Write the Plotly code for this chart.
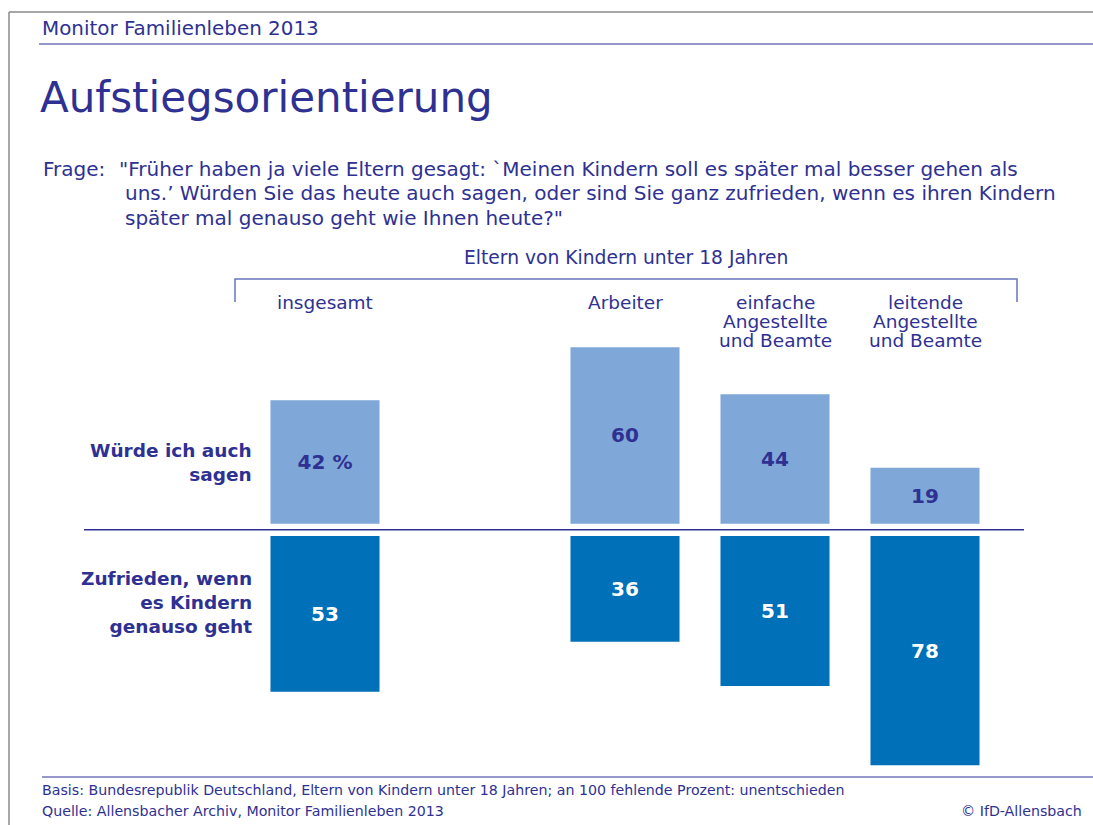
import plotly.graph_objects as go

# --- data -------------------------------------------------------------
categories = ["insgesamt", "Arbeiter", "einfache Angestellte und Beamte",
              "leitende Angestellte und Beamte"]
header_lines = [["insgesamt"], ["Arbeiter"],
                ["einfache", "Angestellte", "und Beamte"],
                ["leitende", "Angestellte", "und Beamte"]]
# blank slot keeps "insgesamt" apart from the occupational groups
slot_order = ["insgesamt", " ", "Arbeiter", "einfache Angestellte und Beamte",
              "leitende Angestellte und Beamte"]
wuerde_sagen = [42, 60, 44, 19]
zufrieden = [53, 36, 51, 78]
row_labels = ["Würde ich auch<br>sagen", "Zufrieden, wenn<br>es Kindern<br>genauso geht"]

kicker = "Monitor Familienleben 2013"
title = "Aufstiegsorientierung"
question = ['"Früher haben ja viele Eltern gesagt: `Meinen Kindern soll es später mal besser gehen als',
            "uns.’ Würden Sie das heute auch sagen, oder sind Sie ganz zufrieden, wenn es ihren Kindern",
            'später mal genauso geht wie Ihnen heute?"']
group_label = "Eltern von Kindern unter 18 Jahren"
basis = "Basis: Bundesrepublik Deutschland, Eltern von Kindern unter 18 Jahren; an 100 fehlende Prozent: unentschieden"
source = "Quelle: Allensbacher Archiv, Monitor Familienleben 2013"
credit = "© IfD-Allensbach"

# --- look -------------------------------------------------------------
W, H = 1093, 825
L, R, T, B = 250, 93, 310, 31
ZERO_PX = 529.85
PX_PER_UNIT = 2.94
GAP = 2.1
FONT = "DejaVu Sans"
NAVY = "#2e3192"
LIGHT = "#7fa7d8"
DARK = "#0070b9"

plot_w = W - L - R
plot_h = H - T - B


def px(x):
    return (x - L) / plot_w


def py(y):
    return (H - B - y) / plot_h


y_top = (ZERO_PX - T) / PX_PER_UNIT
y_bot = -(H - B - ZERO_PX) / PX_PER_UNIT

top_text = [f"{v} %" if i == 0 else str(v) for i, v in enumerate(wuerde_sagen)]
bottom_text = [str(v) for v in zufrieden]

fig = go.Figure()
fig.add_trace(go.Bar(
    x=categories, y=wuerde_sagen, base=GAP, width=0.727,
    marker=dict(color=LIGHT, line=dict(width=0)),
    text=top_text, textposition="inside", insidetextanchor="middle", textangle=0,
    textfont=dict(family=FONT, size=20, color=NAVY, weight="bold"),
    hoverinfo="skip",
))
fig.add_trace(go.Bar(
    x=categories, y=[-v for v in zufrieden], base=-GAP, width=0.727,
    marker=dict(color=DARK, line=dict(width=0)),
    text=bottom_text, textposition="inside", insidetextanchor="middle", textangle=0,
    textfont=dict(family=FONT, size=20, color="white", weight="bold"),
    hoverinfo="skip",
))

ann = []


def note(text, x, y, size, xanchor="left", bold=False, color=NAVY, xref="paper"):
    ann.append(dict(text=text, x=x if xref != "paper" else px(x), y=py(y),
                    xref=xref, yref="paper", showarrow=False,
                    xanchor=xanchor, yanchor="middle", align=xanchor,
                    font=dict(family=FONT, size=size, color=color,
                              weight="bold" if bold else "normal")))


note(kicker, 40, 28, 19.9)
note(title, 38, 98, 42)
note("Frage:", 41, 169, 20)
note(question[0], 117, 169, 20)
note(question[1], 123, 193.5, 20)
note(question[2], 123, 218, 20)
note(group_label, 626, 258, 18.7, xanchor="center")

for cat, lines in zip(categories, header_lines):
    for k, line in enumerate(lines):
        note(line, cat, 302 + 19 * k, 18.5, xanchor="center", xref="x")

note(row_labels[0], 254, 462, 18.5, xanchor="right", bold=True)
note(row_labels[1], 254, 602, 18.5, xanchor="right", bold=True)

note(basis, 40, 790, 14.2)
note(source, 40, 811, 14.2)
note(credit, 1084, 811, 14.2, xanchor="right")

shapes = [
    # grey frame
    dict(type="line", x0=px(9), x1=px(W), y0=py(12), y1=py(12), line=dict(color="#8a8a8a", width=1.5)),
    dict(type="line", x0=px(9), x1=px(9), y0=py(12), y1=py(H), line=dict(color="#8a8a8a", width=1.5)),
    # header / footer rules
    dict(type="line", x0=px(39), x1=px(W), y0=py(44), y1=py(44), line=dict(color=NAVY, width=1)),
    dict(type="line", x0=px(42), x1=px(W), y0=py(777), y1=py(777), line=dict(color=NAVY, width=1)),
    # bracket
    dict(type="path",
         path=f"M {px(235)} {py(302)} L {px(235)} {py(279)} L {px(1017)} {py(279)} L {px(1017)} {py(302)}",
         line=dict(color="#6675bd", width=1.5)),
    # divider between the two answers
    dict(type="line", x0=px(84), x1=px(1024), y0=py(ZERO_PX), y1=py(ZERO_PX), line=dict(color=NAVY, width=1.5)),
]
for s in shapes:
    s.update(xref="paper", yref="paper", layer="above")

fig.update_layout(
    width=W, height=H,
    margin=dict(l=L, r=R, t=T, b=B, pad=0),
    paper_bgcolor="white", plot_bgcolor="white",
    barmode="overlay", showlegend=False,
    xaxis=dict(type="category", categoryorder="array", categoryarray=slot_order,
               range=[-0.5, len(slot_order) - 0.5], visible=False, fixedrange=True),
    yaxis=dict(range=[y_bot, y_top], visible=False, fixedrange=True),
    annotations=ann, shapes=shapes,
)

# the page's default 8px body margin would push the figure off the window
fig.write_html("out.html", config={"displayModeBar": False},
               post_script="document.body.style.margin='0';")
